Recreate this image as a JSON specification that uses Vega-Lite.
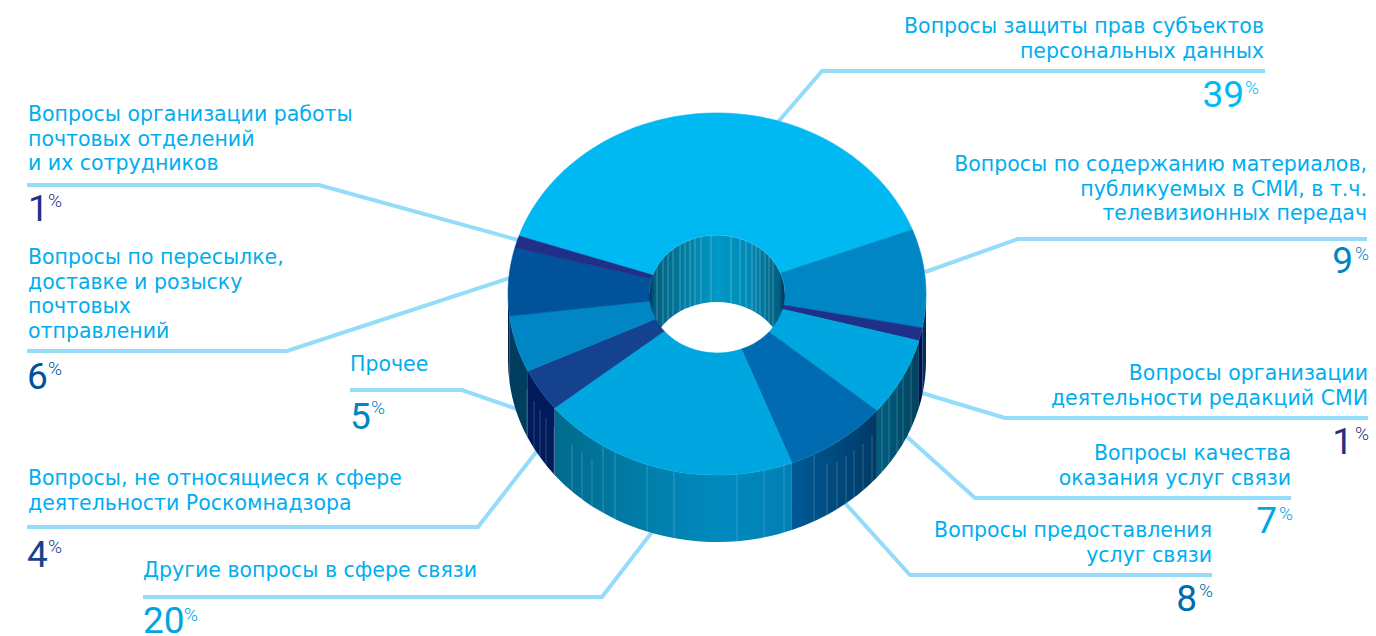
{"$schema":"https://vega.github.io/schema/vega-lite/v6.json","width":1376,"height":636,"autosize":"none","padding":0,"background":"white","view":{"stroke":null},
"config":{"axis":{"disable":true},"legend":{"disable":true},"point":{"opacity":1,"size":4,"filled":true},"text":{"font":"Roboto"}},
"data":{"values":[
{"id":"pd","share":39,"label":"Вопросы защиты прав субъектов\nперсональных данных"},
{"id":"smi","share":9,"label":"Вопросы по содержанию материалов,\nпубликуемых в СМИ, в т.ч.\nтелевизионных передач"},
{"id":"redak","share":1,"label":"Вопросы организации\nдеятельности редакций СМИ"},
{"id":"kach","share":7,"label":"Вопросы качества\nоказания услуг связи"},
{"id":"pred","share":8,"label":"Вопросы предоставления\nуслуг связи"},
{"id":"svyaz","share":20,"label":"Другие вопросы в сфере связи"},
{"id":"nerkn","share":4,"label":"Вопросы, не относящиеся к сфере\nдеятельности Роскомнадзора"},
{"id":"proch","share":5,"label":"Прочее"},
{"id":"peres","share":6,"label":"Вопросы по пересылке,\nдоставке и розыску\nпочтовых\nотправлений"},
{"id":"org","share":1,"label":"Вопросы организации работы\nпочтовых отделений\nи их сотрудников"}]},
"resolve":{"scale":{"shape":"independent"}},
"layer":[
{"mark":{"type":"point","filled":false,"stroke":"#95DCFB","strokeWidth":4,"strokeJoin":"miter"},
"encoding":{"x":{"datum":0,"type":"quantitative","scale":{"domain":[0,1376],"nice":false,"zero":false}},"y":{"datum":0,"type":"quantitative","scale":{"domain":[0,636],"reverse":true,"nice":false,"zero":false}},"detail":{"field":"id"},
"shape":{"field":"id","type":"nominal","scale":{"domain":["pd","smi","redak","kach","pred","svyaz","nerkn","proch","peres","org"],"range":["M1265 71H822L778 122","M1367 239H1018L925 272","M1368 418H1005L922 393","M1291 498H975L905 435","M1212 575H910L845 503","M143 597H602L652 532","M27 527H478L537 451","M350 390H462L517 409","M27 351H287L510 278","M27 185H319L518 240"]}}}},
{"transform":[{"filter":{"field":"id","equal":"pd"}}],"encoding":{"x":{"datum":717,"type":"quantitative"},"y":{"datum":294,"type":"quantitative"}},"layer":[
{"mark":{"type":"point","shape":"M-68 0A68 59 0 0 1 68 0V67A68 59 0 0 0 -68 67Z","fill":{"gradient":"linear","x1":0,"y1":0,"x2":1,"y2":0,"stops":[{"offset":0,"color":"#0A2A5A"},{"offset":0.04,"color":"#00607F"},{"offset":0.3,"color":"#0081A8"},{"offset":0.5,"color":"#0099C8"},{"offset":0.75,"color":"#0088B4"},{"offset":0.96,"color":"#005E7E"},{"offset":1,"color":"#002850"}]}}},
{"mark":{"type":"point","filled":false,"stroke":"#FFFFFF","strokeOpacity":0.28,"strokeWidth":1,"shape":"M-68 0A68 59 0 0 1 68 0M-60 -27.8V39.2M-54 -35.9V31.1M-49 -40.9V26.1M-44 -45V22M-37 -49.5V17.5M-32 -52V15M-27 -54.2V12.8M-22 -55.8V11.2M-16 -57.3V9.7M-6 -58.8V8.2M14 -57.7V9.3M23 -55.5V11.5M29 -53.4V13.6M35 -50.6V16.4M39 -48.3V18.7M43 -45.7V21.3M48 -41.8V25.2M52 -38V29M56 -33.5V33.5"}}
]},
{"transform":[{"filter":{"field":"id","equal":"smi"}}],"encoding":{"x":{"datum":717,"type":"quantitative"},"y":{"datum":294,"type":"quantitative"}},"mark":{"type":"point","shape":"M209 0A209 181 0 0 1 205.3 33.9L205.3 100.9A209 181 0 0 0 209 67Z","fill":{"gradient":"linear","x1":0,"y1":0,"x2":1,"y2":0,"stops":[{"offset":0,"color":"#00365F"},{"offset":1,"color":"#002A52"}]}}},
{"transform":[{"filter":{"field":"id","equal":"redak"}}],"encoding":{"x":{"datum":717,"type":"quantitative"},"y":{"datum":294,"type":"quantitative"}},"mark":{"type":"point","shape":"M205.3 33.9A209 181 0 0 1 201.9 46.8L201.9 113.8A209 181 0 0 0 205.3 100.9Z","fill":"#000F50"}},
{"transform":[{"filter":{"field":"id","equal":"kach"}}],"encoding":{"x":{"datum":717,"type":"quantitative"},"y":{"datum":294,"type":"quantitative"}},"mark":{"type":"point","shape":"M201.9 46.8A209 181 0 0 1 159.9 116.6L159.9 183.6A209 181 0 0 0 201.9 113.8Z","fill":{"gradient":"linear","x1":0,"y1":0,"x2":1,"y2":0,"stops":[{"offset":0,"color":"#005F80"},{"offset":1,"color":"#00425F"}]}}},
{"transform":[{"filter":{"field":"id","equal":"pred"}}],"encoding":{"x":{"datum":717,"type":"quantitative"},"y":{"datum":294,"type":"quantitative"}},"mark":{"type":"point","shape":"M159.9 116.6A209 181 0 0 1 74.9 169L74.9 236A209 181 0 0 0 159.9 183.6Z","fill":{"gradient":"linear","x1":0,"y1":0,"x2":1,"y2":0,"stops":[{"offset":0,"color":"#005A96"},{"offset":1,"color":"#003A66"}]}}},
{"transform":[{"filter":{"field":"id","equal":"svyaz"}}],"encoding":{"x":{"datum":717,"type":"quantitative"},"y":{"datum":294,"type":"quantitative"}},"mark":{"type":"point","shape":"M74.9 169A209 181 0 0 1 -162.4 113.9L-162.4 180.9A209 181 0 0 0 74.9 236Z","fill":{"gradient":"linear","x1":0,"y1":0,"x2":1,"y2":0,"stops":[{"offset":0,"color":"#006B8E"},{"offset":0.4,"color":"#007FAB"},{"offset":0.7,"color":"#008ABF"},{"offset":1,"color":"#007FB5"}]}}},
{"transform":[{"filter":{"field":"id","equal":"nerkn"}}],"encoding":{"x":{"datum":717,"type":"quantitative"},"y":{"datum":294,"type":"quantitative"}},"mark":{"type":"point","shape":"M-162.4 113.9A209 181 0 0 1 -189.1 77.1L-189.1 144.1A209 181 0 0 0 -162.4 180.9Z","fill":"#001B5B"}},
{"transform":[{"filter":{"field":"id","equal":"proch"}}],"encoding":{"x":{"datum":717,"type":"quantitative"},"y":{"datum":294,"type":"quantitative"}},"mark":{"type":"point","shape":"M-189.1 77.1A209 181 0 0 1 -207.4 22.1L-207.4 89.1A209 181 0 0 0 -189.1 144.1Z","fill":"#003D5F"}},
{"transform":[{"filter":{"field":"id","equal":"peres"}}],"encoding":{"x":{"datum":717,"type":"quantitative"},"y":{"datum":294,"type":"quantitative"}},"mark":{"type":"point","shape":"M-207.4 22.1A209 181 0 0 1 -209 0L-209 67A209 181 0 0 0 -207.4 89.1Z","fill":"#00204D"}},
{"transform":[{"filter":{"field":"id","equal":"pd"}}],"encoding":{"x":{"datum":717,"type":"quantitative"},"y":{"datum":294,"type":"quantitative"}},"mark":{"type":"point","filled":false,"stroke":"#FFFFFF","strokeOpacity":0.2,"strokeWidth":1,"shape":"M-190 95V142.4M-183 107V154.4M-177 116V163.3M-171 124V171.1M-163 133V180.3M-145 150V197.4M-135 158V205.2M-125 165V212.1M-114 151.7V218.7M-102 158V225M-70 170.5V237.5M-43 177.1V244.1M20 180.2V247.2M47 176.4V243.4M67 171.4V238.4M97 160.3V227.3M110 170V220.9M120 168V215.2M129 162V209.4M137 156V203.7M146 150V196.5M155 141V188.4M165 111.1V178.1M172 102.8V169.8M180 92V159M186 82.5V149.5M194 67.3V134.3"}},
{"mark":{"type":"point","strokeWidth":0.6},
"encoding":{"x":{"datum":717,"type":"quantitative"},"y":{"datum":294,"type":"quantitative"},"detail":{"field":"id"},
"fill":{"field":"id","type":"nominal","scale":{"domain":["pd","smi","redak","kach","pred","svyaz","nerkn","proch","peres","org"],"range":["#00B9F2","#0086C4","#1F3088","#00A6E0","#006BB0","#00A6E0","#14428F","#0086C4","#00539B","#1F3088"]}},
"stroke":{"field":"id","type":"nominal","scale":{"domain":["pd","smi","redak","kach","pred","svyaz","nerkn","proch","peres","org"],"range":["#00B9F2","#0086C4","#1F3088","#00A6E0","#006BB0","#00A6E0","#14428F","#0086C4","#00539B","#1F3088"]}},
"shape":{"field":"id","type":"nominal","scale":{"domain":["pd","smi","redak","kach","pred","svyaz","nerkn","proch","peres","org"],"range":[
"M-198 -58A209 181 0 0 1 195.4 -64.3L63.6 -21A68 59 0 0 0 -64.4 -18.9Z",
"M195.4 -64.3A209 181 0 0 1 205.3 33.9L66.8 11.1A68 59 0 0 0 63.6 -21Z",
"M205.3 33.9A209 181 0 0 1 201.9 46.8L65.7 15.3A68 59 0 0 0 66.8 11.1Z",
"M201.9 46.8A209 181 0 0 1 159.9 116.6L52 38A68 59 0 0 0 65.7 15.3Z",
"M159.9 116.6A209 181 0 0 1 74.9 169L24.4 55.1A68 59 0 0 0 52 38Z",
"M74.9 169A209 181 0 0 1 -162.4 113.9L-52.8 37.1A68 59 0 0 0 24.4 55.1Z",
"M-162.4 113.9A209 181 0 0 1 -189.1 77.1L-61.5 25.1A68 59 0 0 0 -52.8 37.1Z",
"M-189.1 77.1A209 181 0 0 1 -207.4 22.1L-67.5 7.2A68 59 0 0 0 -61.5 25.1Z",
"M-207.4 22.1A209 181 0 0 1 -202.1 -46.2L-65.7 -15.1A68 59 0 0 0 -67.5 7.2Z",
"M-202.1 -46.2A209 181 0 0 1 -198 -58L-64.4 -18.9A68 59 0 0 0 -65.7 -15.1Z"]}}}},
{"transform":[{"filter":{"field":"id","equal":"pd"}}],"layer":[
{"mark":{"type":"text","font":"DejaVu Sans","align":"right","baseline":"alphabetic","fontSize":20.5,"lineHeight":24.5,"lineBreak":"\n","fill":"#00AEEF"},"encoding":{"x":{"datum":1264,"type":"quantitative"},"y":{"datum":33,"type":"quantitative"},"text":{"field":"label"}}},
{"mark":{"type":"text","align":"right","baseline":"alphabetic","fontSize":37},"encoding":{"x":{"datum":1244,"type":"quantitative"},"y":{"datum":107,"type":"quantitative"},"text":{"field":"share","type":"quantitative"},"fill":{"field":"id","type":"nominal"}}},
{"mark":{"type":"text","align":"left","baseline":"alphabetic","fontSize":19,"fontWeight":300,"text":"%"},"encoding":{"x":{"datum":1245,"type":"quantitative"},"y":{"datum":94,"type":"quantitative"},"fill":{"field":"id","type":"nominal"}}}]},
{"transform":[{"filter":{"field":"id","equal":"smi"}}],"layer":[
{"mark":{"type":"text","font":"DejaVu Sans","align":"right","baseline":"alphabetic","fontSize":20.5,"lineHeight":24.5,"lineBreak":"\n","fill":"#00AEEF"},"encoding":{"x":{"datum":1367,"type":"quantitative"},"y":{"datum":171,"type":"quantitative"},"text":{"field":"label"}}},
{"mark":{"type":"text","align":"right","baseline":"alphabetic","fontSize":37},"encoding":{"x":{"datum":1353,"type":"quantitative"},"y":{"datum":273,"type":"quantitative"},"text":{"field":"share","type":"quantitative"},"fill":{"field":"id","type":"nominal"}}},
{"mark":{"type":"text","align":"left","baseline":"alphabetic","fontSize":19,"fontWeight":300,"text":"%"},"encoding":{"x":{"datum":1355,"type":"quantitative"},"y":{"datum":260,"type":"quantitative"},"fill":{"field":"id","type":"nominal"}}}]},
{"transform":[{"filter":{"field":"id","equal":"redak"}}],"layer":[
{"mark":{"type":"text","font":"DejaVu Sans","align":"right","baseline":"alphabetic","fontSize":20.5,"lineHeight":24.5,"lineBreak":"\n","fill":"#00AEEF"},"encoding":{"x":{"datum":1368,"type":"quantitative"},"y":{"datum":380,"type":"quantitative"},"text":{"field":"label"}}},
{"mark":{"type":"text","align":"right","baseline":"alphabetic","fontSize":37},"encoding":{"x":{"datum":1353,"type":"quantitative"},"y":{"datum":454,"type":"quantitative"},"text":{"field":"share","type":"quantitative"},"fill":{"field":"id","type":"nominal"}}},
{"mark":{"type":"text","align":"left","baseline":"alphabetic","fontSize":19,"fontWeight":300,"text":"%"},"encoding":{"x":{"datum":1355,"type":"quantitative"},"y":{"datum":440,"type":"quantitative"},"fill":{"field":"id","type":"nominal"}}}]},
{"transform":[{"filter":{"field":"id","equal":"kach"}}],"layer":[
{"mark":{"type":"text","font":"DejaVu Sans","align":"right","baseline":"alphabetic","fontSize":20.5,"lineHeight":24.5,"lineBreak":"\n","fill":"#00AEEF"},"encoding":{"x":{"datum":1291,"type":"quantitative"},"y":{"datum":460,"type":"quantitative"},"text":{"field":"label"}}},
{"mark":{"type":"text","align":"right","baseline":"alphabetic","fontSize":37},"encoding":{"x":{"datum":1277,"type":"quantitative"},"y":{"datum":533,"type":"quantitative"},"text":{"field":"share","type":"quantitative"},"fill":{"field":"id","type":"nominal"}}},
{"mark":{"type":"text","align":"left","baseline":"alphabetic","fontSize":19,"fontWeight":300,"text":"%"},"encoding":{"x":{"datum":1279,"type":"quantitative"},"y":{"datum":520,"type":"quantitative"},"fill":{"field":"id","type":"nominal"}}}]},
{"transform":[{"filter":{"field":"id","equal":"pred"}}],"layer":[
{"mark":{"type":"text","font":"DejaVu Sans","align":"right","baseline":"alphabetic","fontSize":20.5,"lineHeight":24.5,"lineBreak":"\n","fill":"#00AEEF"},"encoding":{"x":{"datum":1212,"type":"quantitative"},"y":{"datum":537,"type":"quantitative"},"text":{"field":"label"}}},
{"mark":{"type":"text","align":"right","baseline":"alphabetic","fontSize":37},"encoding":{"x":{"datum":1197,"type":"quantitative"},"y":{"datum":611,"type":"quantitative"},"text":{"field":"share","type":"quantitative"},"fill":{"field":"id","type":"nominal"}}},
{"mark":{"type":"text","align":"left","baseline":"alphabetic","fontSize":19,"fontWeight":300,"text":"%"},"encoding":{"x":{"datum":1199,"type":"quantitative"},"y":{"datum":597,"type":"quantitative"},"fill":{"field":"id","type":"nominal"}}}]},
{"transform":[{"filter":{"field":"id","equal":"svyaz"}}],"layer":[
{"mark":{"type":"text","font":"DejaVu Sans","align":"left","baseline":"alphabetic","fontSize":20.5,"lineHeight":24.5,"lineBreak":"\n","fill":"#00AEEF"},"encoding":{"x":{"datum":143,"type":"quantitative"},"y":{"datum":577,"type":"quantitative"},"text":{"field":"label"}}},
{"mark":{"type":"text","align":"left","baseline":"alphabetic","fontSize":37},"encoding":{"x":{"datum":143,"type":"quantitative"},"y":{"datum":633,"type":"quantitative"},"text":{"field":"share","type":"quantitative"},"fill":{"field":"id","type":"nominal"}}},
{"mark":{"type":"text","align":"left","baseline":"alphabetic","fontSize":19,"fontWeight":300,"text":"%"},"encoding":{"x":{"datum":184,"type":"quantitative"},"y":{"datum":621,"type":"quantitative"},"fill":{"field":"id","type":"nominal"}}}]},
{"transform":[{"filter":{"field":"id","equal":"nerkn"}}],"layer":[
{"mark":{"type":"text","font":"DejaVu Sans","align":"left","baseline":"alphabetic","fontSize":20.5,"lineHeight":24.5,"lineBreak":"\n","fill":"#00AEEF"},"encoding":{"x":{"datum":28,"type":"quantitative"},"y":{"datum":485,"type":"quantitative"},"text":{"field":"label"}}},
{"mark":{"type":"text","align":"left","baseline":"alphabetic","fontSize":37},"encoding":{"x":{"datum":27,"type":"quantitative"},"y":{"datum":567,"type":"quantitative"},"text":{"field":"share","type":"quantitative"},"fill":{"field":"id","type":"nominal"}}},
{"mark":{"type":"text","align":"left","baseline":"alphabetic","fontSize":19,"fontWeight":300,"text":"%"},"encoding":{"x":{"datum":48,"type":"quantitative"},"y":{"datum":553,"type":"quantitative"},"fill":{"field":"id","type":"nominal"}}}]},
{"transform":[{"filter":{"field":"id","equal":"proch"}}],"layer":[
{"mark":{"type":"text","font":"DejaVu Sans","align":"left","baseline":"alphabetic","fontSize":20.5,"lineHeight":24.5,"lineBreak":"\n","fill":"#00AEEF"},"encoding":{"x":{"datum":350,"type":"quantitative"},"y":{"datum":371,"type":"quantitative"},"text":{"field":"label"}}},
{"mark":{"type":"text","align":"left","baseline":"alphabetic","fontSize":37},"encoding":{"x":{"datum":350,"type":"quantitative"},"y":{"datum":429,"type":"quantitative"},"text":{"field":"share","type":"quantitative"},"fill":{"field":"id","type":"nominal"}}},
{"mark":{"type":"text","align":"left","baseline":"alphabetic","fontSize":19,"fontWeight":300,"text":"%"},"encoding":{"x":{"datum":371,"type":"quantitative"},"y":{"datum":414,"type":"quantitative"},"fill":{"field":"id","type":"nominal"}}}]},
{"transform":[{"filter":{"field":"id","equal":"peres"}}],"layer":[
{"mark":{"type":"text","font":"DejaVu Sans","align":"left","baseline":"alphabetic","fontSize":20.5,"lineHeight":24.5,"lineBreak":"\n","fill":"#00AEEF"},"encoding":{"x":{"datum":28,"type":"quantitative"},"y":{"datum":264,"type":"quantitative"},"text":{"field":"label"}}},
{"mark":{"type":"text","align":"left","baseline":"alphabetic","fontSize":37},"encoding":{"x":{"datum":27,"type":"quantitative"},"y":{"datum":389,"type":"quantitative"},"text":{"field":"share","type":"quantitative"},"fill":{"field":"id","type":"nominal"}}},
{"mark":{"type":"text","align":"left","baseline":"alphabetic","fontSize":19,"fontWeight":300,"text":"%"},"encoding":{"x":{"datum":48,"type":"quantitative"},"y":{"datum":375,"type":"quantitative"},"fill":{"field":"id","type":"nominal"}}}]},
{"transform":[{"filter":{"field":"id","equal":"org"}}],"layer":[
{"mark":{"type":"text","font":"DejaVu Sans","align":"left","baseline":"alphabetic","fontSize":20.5,"lineHeight":24.5,"lineBreak":"\n","fill":"#00AEEF"},"encoding":{"x":{"datum":28,"type":"quantitative"},"y":{"datum":121,"type":"quantitative"},"text":{"field":"label"}}},
{"mark":{"type":"text","align":"left","baseline":"alphabetic","fontSize":37},"encoding":{"x":{"datum":28,"type":"quantitative"},"y":{"datum":221,"type":"quantitative"},"text":{"field":"share","type":"quantitative"},"fill":{"field":"id","type":"nominal"}}},
{"mark":{"type":"text","align":"left","baseline":"alphabetic","fontSize":19,"fontWeight":300,"text":"%"},"encoding":{"x":{"datum":48,"type":"quantitative"},"y":{"datum":207,"type":"quantitative"},"fill":{"field":"id","type":"nominal"}}}]}
]}
